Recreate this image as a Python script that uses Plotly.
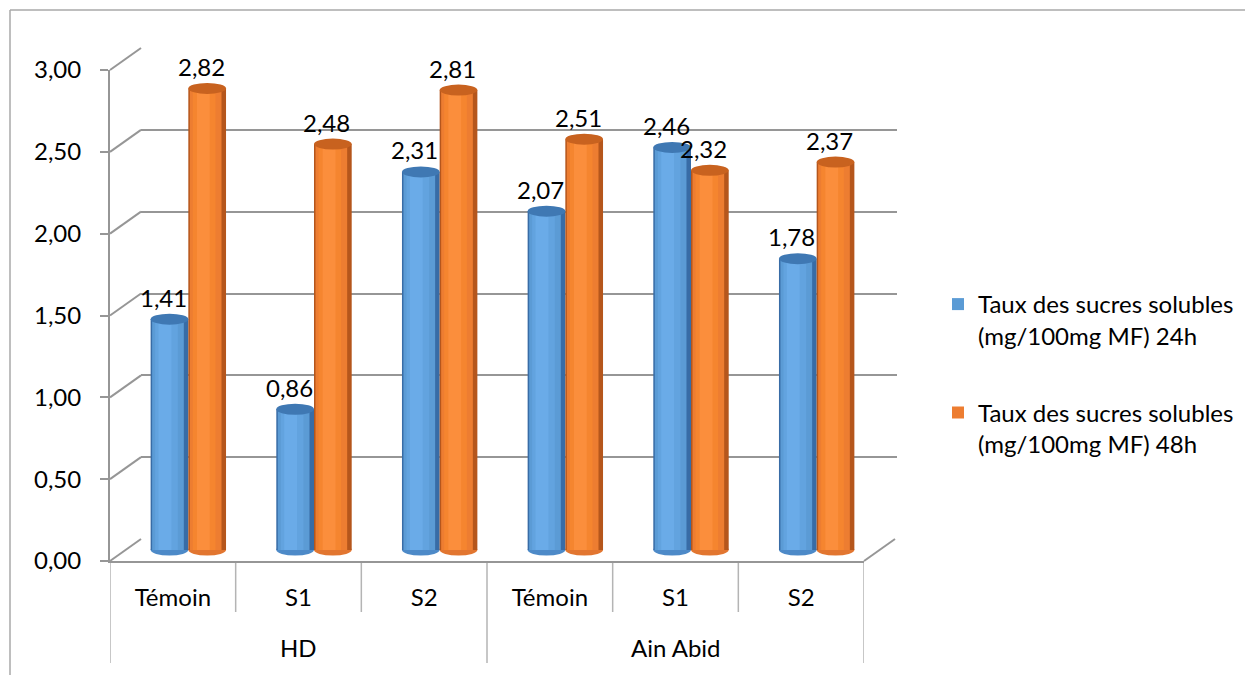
import plotly.graph_objects as go

# ---------------- data ----------------
groups = ["HD", "Ain Abid"]
categories = ["Témoin", "S1", "S2", "Témoin", "S1", "S2"]
category_group = ["HD", "HD", "HD", "Ain Abid", "Ain Abid", "Ain Abid"]
series_names = [
    "Taux des sucres solubles<br>(mg/100mg MF) 24h",
    "Taux des sucres solubles<br>(mg/100mg MF) 48h",
]
values_24h = [1.41, 0.86, 2.31, 2.07, 2.46, 1.78]
values_48h = [2.82, 2.48, 2.81, 2.51, 2.32, 2.37]
y_ticks = [0.0, 0.5, 1.0, 1.5, 2.0, 2.5, 3.0]
Y_MAX = 3.0

# ---------------- geometry (screen pixels) ----------------
W, H = 1253, 675
OFF = 8                       # page body margin
FRONT_X = (110, 864)
FRONT_Y = (561, 70)           # pixel y of 0 and of Y_MAX on the front plane
DEPTH = (31, -22)             # back wall offset
MID = (DEPTH[0] / 2, DEPTH[1] / 2)
PX_PER_UNIT = (FRONT_Y[0] - FRONT_Y[1]) / Y_MAX
BOTTOM_PAD = 7                # room below the bar base for the rounded bottoms


def px(x):
    return (x - OFF) / W


def py(y):
    return 1 - (y - OFF) / H


front_xd = [px(FRONT_X[0]), px(FRONT_X[1])]
front_yd = [py(FRONT_Y[0]), py(FRONT_Y[1])]
back_xd = [px(FRONT_X[0] + DEPTH[0]), px(FRONT_X[1] + DEPTH[0] + 2)]
back_yd = [py(FRONT_Y[0] + DEPTH[1]), py(FRONT_Y[1] + DEPTH[1])]
mid_xd = [px(FRONT_X[0] + MID[0]), px(FRONT_X[1] + MID[0])]
mid_yd = [py(FRONT_Y[0] + MID[1] + BOTTOM_PAD), py(FRONT_Y[1] + MID[1])]
mid_yrange = [-BOTTOM_PAD / PX_PER_UNIT, Y_MAX]

FONT = "Lato, 'Liberation Sans', Arial, sans-serif"
FS = 24
GRID = "#969696"
SEP = "#b4b4b4"

n = len(categories)
BW = 0.3
centers = [i + 0.5 for i in range(n)]

series = [
    dict(vals=values_24h, name=series_names[0], side=-1,
         layers=[(1.0, 0.0, "#386ca6"), (0.84, -0.04, "#5b9bd5"),
                 (0.6, -0.08, "#62a3df"), (0.34, -0.12, "#6aabe8")],
         cap="#3f78b3", bottom="#4d8ac8"),
    dict(vals=values_48h, name=series_names[1], side=1,
         layers=[(1.0, 0.0, "#b5561c"), (0.84, -0.04, "#ed7d31"),
                 (0.6, -0.08, "#f5852f"), (0.34, -0.1, "#fb8e3c")],
         cap="#c8621f", bottom="#e27630"),
]

fig = go.Figure()

# invisible traces so the back-wall and front-axis subplots exist
fig.add_trace(go.Scatter(x=[None], y=[None], xaxis="x", yaxis="y",
                         showlegend=False, hoverinfo="skip"))
fig.add_trace(go.Scatter(x=[None], y=[None], xaxis="x2", yaxis="y2",
                         showlegend=False, hoverinfo="skip"))

shapes = []
annotations = []
cap_h = 5.5 / PX_PER_UNIT

for s_i, s in enumerate(series):
    xs = [c + s["side"] * BW / 2 for c in centers]
    for k, (frac, shift, color) in enumerate(s["layers"]):
        w = BW * frac
        fig.add_trace(go.Bar(
            x=xs, y=s["vals"], width=w, offset=-w / 2 + shift * BW,
            marker=dict(color=color, line=dict(width=0)),
            xaxis="x3", yaxis="y3",
            name=s["name"], legendgroup=f"g{s_i}",
            showlegend=(k == 1), hoverinfo="skip",
        ))
    for x, v in zip(xs, s["vals"]):
        # rounded bottom (under the bar)
        shapes.append(dict(type="circle", xref="x3", yref="y3", layer="between",
                           x0=x - BW / 2, x1=x + BW / 2, y0=-cap_h, y1=cap_h,
                           fillcolor=s["bottom"], line=dict(width=0)))
        # top cap
        shapes.append(dict(type="circle", xref="x3", yref="y3", layer="above",
                           x0=x - BW / 2, x1=x + BW / 2, y0=v - cap_h, y1=v + cap_h,
                           fillcolor=s["cap"], line=dict(width=0)))
        annotations.append(dict(x=x, y=v, xref="x3", yref="y3",
                                text=f"{v:.2f}".replace(".", ","),
                                showarrow=False, xshift=-6, yshift=22,
                                xanchor="center", yanchor="middle",
                                font=dict(size=FS, color="#000", family=FONT)))

# 3D connectors from front ticks to back wall gridlines
for v in y_ticks:
    yf = front_yd[0] + v / Y_MAX * (front_yd[1] - front_yd[0])
    yb = back_yd[0] + v / Y_MAX * (back_yd[1] - back_yd[0])
    shapes.append(dict(type="line", xref="paper", yref="paper", layer="below",
                       x0=front_xd[0], x1=back_xd[0], y0=yf, y1=yb,
                       line=dict(color=GRID, width=2)))
# right floor edge
shapes.append(dict(type="line", xref="paper", yref="paper", layer="below",
                   x0=front_xd[1], x1=back_xd[1] - 2 / W, y0=front_yd[0], y1=back_yd[0],
                   line=dict(color=GRID, width=2)))

# category separators
for b in range(n + 1):
    is_group_edge = (b == 0 or b == n or category_group[b] != category_group[b - 1])
    y_end = 663 if is_group_edge else 612
    shapes.append(dict(type="line", xref="x2", yref="paper", layer="below",
                       x0=b, x1=b, y0=py(FRONT_Y[0]), y1=py(y_end),
                       line=dict(color=SEP, width=1.5)))

# group labels
for g in groups:
    idx = [i for i, cg in enumerate(category_group) if cg == g]
    annotations.append(dict(x=(idx[0] + idx[-1] + 1) / 2, y=py(647), xref="x2", yref="paper",
                            text=g, showarrow=False, xanchor="center", yanchor="middle",
                            font=dict(size=FS, color="#000", family=FONT)))

# chart border
shapes.append(dict(type="line", xref="paper", yref="paper", layer="below",
                   x0=px(10), x1=1.0, y0=py(10), y1=py(10),
                   line=dict(color="#a8a8a8", width=1.5)))
shapes.append(dict(type="line", xref="paper", yref="paper", layer="below",
                   x0=px(10), x1=px(10), y0=py(10), y1=0,
                   line=dict(color="#a8a8a8", width=1.5)))

fig.update_layout(
    template="none",
    autosize=False,
    width=W, height=H,
    margin=dict(l=0, r=0, t=0, b=0, pad=0, autoexpand=False),
    paper_bgcolor="white", plot_bgcolor="rgba(0,0,0,0)",
    separators=", ",
    barmode="overlay",
    font=dict(family=FONT, size=FS, color="#000"),
    # back wall
    xaxis=dict(domain=back_xd, range=[0, n], anchor="y", visible=False, automargin=False),
    yaxis=dict(domain=back_yd, range=[0, Y_MAX], anchor="x", tickvals=y_ticks,
               showgrid=True, gridcolor=GRID, gridwidth=2, zeroline=False,
               showticklabels=False, ticks="", showline=False, automargin=False),
    # front axes
    xaxis2=dict(domain=front_xd, range=[0, n], anchor="y2",
                tickvals=centers, ticktext=categories, ticks="",
                showline=True, linecolor=GRID, linewidth=2, automargin=False,
                showgrid=False, zeroline=False, ticklabelstandoff=14,
                tickfont=dict(size=FS, color="#000", family=FONT)),
    yaxis2=dict(domain=front_yd, range=[0, Y_MAX], anchor="x2", automargin=False,
                tickvals=y_ticks, tickformat=".2f", ticks="outside", ticklen=8,
                tickwidth=2, tickcolor=GRID, showline=True, linecolor=GRID,
                linewidth=2, showgrid=False, zeroline=False, ticklabelstandoff=14,
                tickfont=dict(size=FS, color="#000", family=FONT)),
    # bars (mid depth)
    xaxis3=dict(domain=mid_xd, range=[0, n], anchor="y3", visible=False, automargin=False),
    yaxis3=dict(domain=mid_yd, range=mid_yrange, anchor="x3", visible=False, automargin=False),
    legend=dict(x=px(938), y=py(282), xanchor="left", yanchor="top",
                bgcolor="rgba(0,0,0,0)", valign="top", traceorder="grouped",
                tracegroupgap=43, font=dict(size=FS, color="#000", family=FONT)),
    shapes=shapes,
    annotations=annotations,
)

fig.write_html("out.html")
